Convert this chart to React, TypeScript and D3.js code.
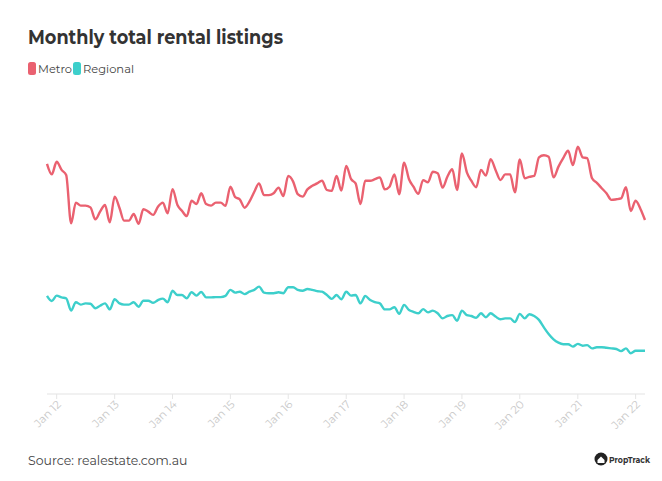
import React from "react";
import * as d3 from "d3";

const START_YEAR = 2011;
const START_MONTH = 10; // Nov 2011 (0-based month)

const metro: number[] = [
  76.7, 73.2, 77.4, 74.7, 73.0, 56.9, 63.8, 62.8, 62.8, 62.2, 58.2, 60.8, 63.0, 57.2, 65.8, 61.9, 57.8, 57.8, 60.0, 56.7,
  61.6, 60.8, 59.7, 62.4, 63.8, 60.2, 68.3, 63.0, 61.1, 59.3, 64.4, 63.3, 66.9, 63.3, 62.8, 63.8, 63.8, 62.7, 69.1, 65.6,
  64.9, 62.1, 64.1, 67.4, 70.2, 66.3, 66.3, 66.9, 68.8, 66.0, 72.7, 70.8, 66.6, 65.8, 68.2, 69.4, 70.2, 71.1, 68.0, 67.7,
  72.7, 67.8, 76.0, 71.6, 70.2, 63.3, 71.1, 71.1, 71.6, 72.2, 68.2, 69.1, 73.2, 66.6, 77.1, 71.6, 69.1, 66.7, 71.3, 70.6,
  74.1, 73.6, 68.8, 72.4, 74.9, 68.0, 80.2, 73.9, 71.1, 68.9, 74.7, 72.8, 78.3, 74.7, 71.3, 73.2, 73.2, 67.2, 78.2, 71.9,
  72.4, 72.7, 78.9, 79.6, 79.1, 72.2, 75.8, 78.6, 81.1, 76.3, 82.4, 78.9, 78.6, 71.9, 70.4, 68.6, 66.9, 64.7, 64.9, 65.2,
  68.9, 61.0, 64.4, 61.6, 58.0,
];

const regional: number[] = [
  32.7, 31.0, 32.8, 32.2, 31.9, 27.8, 30.6, 29.8, 30.2, 30.1, 28.6, 29.4, 30.2, 28.2, 31.6, 30.2, 29.8, 29.8, 30.6, 29.1,
  31.1, 31.1, 30.4, 31.3, 31.8, 30.6, 34.4, 33.0, 33.0, 31.9, 33.9, 32.8, 34.0, 32.2, 32.2, 32.3, 32.3, 32.7, 34.7, 33.8,
  34.1, 33.3, 34.1, 34.7, 35.8, 33.8, 33.6, 33.6, 33.9, 33.6, 35.6, 35.6, 34.7, 34.4, 35.0, 34.7, 34.3, 34.1, 33.0, 31.7,
  33.0, 31.6, 34.1, 32.8, 33.0, 30.2, 32.7, 31.3, 30.6, 30.2, 28.2, 28.2, 28.9, 26.7, 29.7, 28.0, 27.4, 26.9, 28.3, 27.2,
  27.8, 26.9, 25.2, 26.0, 26.3, 24.4, 27.8, 26.3, 26.0, 25.4, 26.9, 25.6, 26.9, 25.8, 24.9, 25.2, 25.2, 24.0, 26.7, 25.2,
  26.6, 26.0, 24.7, 22.2, 20.0, 18.2, 17.1, 16.6, 16.6, 15.8, 16.7, 16.1, 16.3, 15.2, 15.6, 15.6, 15.4, 15.2, 15.0, 14.3,
  15.2, 13.6, 14.4, 14.4, 14.4,
];

const tickYears: number[] = [2012, 2013, 2014, 2015, 2016, 2017, 2018, 2019, 2020, 2021, 2022];
const tickLabels: string[] = tickYears.map((y) => `Jan ${String(y).slice(2)}`);

const seriesNames = ["Metro", "Regional"];
const seriesColors = ["#ea6170", "#3dcfcb"];

const dates: Date[] = metro.map((_, i) => new Date(START_YEAR, START_MONTH + i, 1));

export default function App() {
  const W = 662;
  const H = 481;
  const x = d3
    .scaleTime()
    .domain([dates[0], dates[dates.length - 1]])
    .range([47, 645]);
  const y = d3.scaleLinear().domain([0, 100]).range([394, 94]);
  const axisY = 394;

  const line = d3
    .line<number>()
    .x((_, i) => x(dates[i]))
    .y((d) => y(d))
    .curve(d3.curveMonotoneX);

  const font = "Montserrat, 'Open Sans', Lato, sans-serif";

  return (
    <svg
      width={W}
      height={H}
      style={{ position: "absolute", left: 0, top: 0, background: "#fff" }}
      fontFamily={font}
    >
      <rect x={0} y={0} width={W} height={H} fill="#fff" />
      <text x={28} y={44} fontSize={19} fontWeight={700} fill="#333" textLength={255} lengthAdjust="spacingAndGlyphs">
        Monthly total rental listings
      </text>
      {/* legend */}
      {(() => {
        const items = [
          { name: seriesNames[0], color: seriesColors[0], x: 28, w: 34 },
          { name: seriesNames[1], color: seriesColors[1], x: 73, w: 51 },
        ];
        return items.map((it) => (
          <g key={it.name}>
            <rect x={it.x} y={62} width={8} height={13} rx={2.5} fill={it.color} />
            <text x={it.x + 10} y={73} fontSize={12} fill="#444" textLength={it.w} lengthAdjust="spacingAndGlyphs">
              {it.name}
            </text>
          </g>
        ));
      })()}

      {/* axis */}
      <line x1={47} x2={645} y1={axisY} y2={axisY} stroke="#ececec" strokeWidth={1.5} />
      {tickYears.map((yr, i) => {
        const tx = x(new Date(yr, 0, 1));
        return (
          <g key={yr}>
            <line x1={tx} x2={tx} y1={axisY} y2={axisY + 5} stroke="#e5e5e5" strokeWidth={1} />
            <text
              transform={`translate(${tx + 5},${axisY + 11}) rotate(-45)`}
              textAnchor="end"
              fontSize={11}
              fill="#c9c9c9"
            >
              {tickLabels[i]}
            </text>
          </g>
        );
      })}

      {/* lines */}
      <path d={line(metro) || ""} fill="none" stroke={seriesColors[0]} strokeWidth={2.4} strokeLinejoin="round" />
      <path d={line(regional) || ""} fill="none" stroke={seriesColors[1]} strokeWidth={2.4} strokeLinejoin="round" />

      {/* footer */}
      <text x={28} y={465} fontSize={12.5} fill="#444">
        Source: realestate.com.au
      </text>
      <g>
        <circle cx={601} cy={459} r={6.5} fill="#222" />
        <path d="M597.5,460 L601,456.5 L604.5,460 L604.5,463 L597.5,463 Z" fill="#fff" />
        <text x={609} y={462.5} fontSize={9} fontWeight={700} fill="#333" textLength={41} lengthAdjust="spacingAndGlyphs">
          PropTrack
        </text>
      </g>
    </svg>
  );
}
